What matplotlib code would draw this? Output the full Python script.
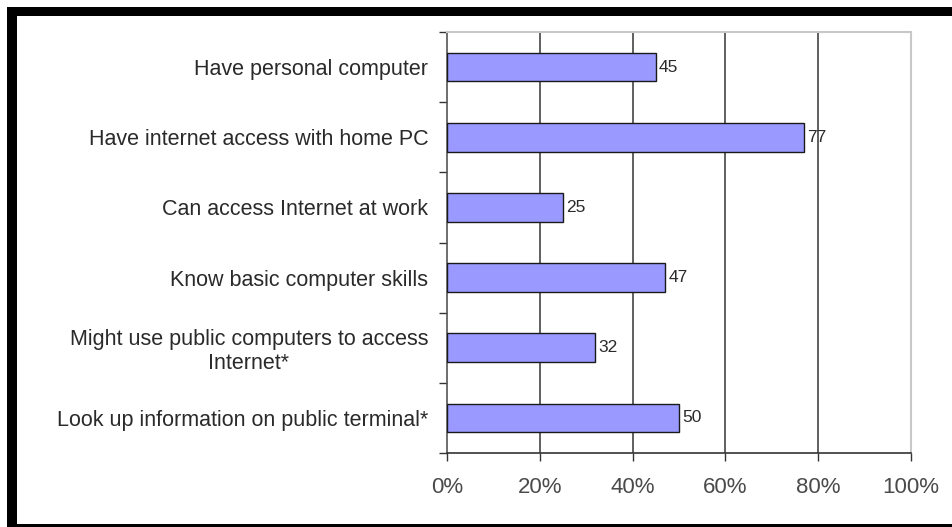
import matplotlib.pyplot as plt
from matplotlib.patches import Rectangle
from matplotlib.ticker import FixedLocator, PercentFormatter

plt.rcParams['font.family'] = ['Liberation Sans', 'DejaVu Sans']

# Survey items, top to bottom
categories = [
    "Have personal computer",
    "Have internet access with home PC",
    "Can access Internet at work",
    "Know basic computer skills",
    "Might use public computers to access\nInternet*",
    "Look up information on public terminal*",
]
values = [45, 77, 25, 47, 32, 50]
x_ticks = [0, 20, 40, 60, 80, 100]

W, H = 952, 527
fig = plt.figure(figsize=(W / 100, H / 100), dpi=100)
fig.patch.set_facecolor('white')


def px(x0, y0, x1, y1):
    # pixel box (top-left origin) -> figure fraction rect
    return [x0 / W, 1 - y1 / H, (x1 - x0) / W, (y1 - y0) / H]


ax = fig.add_axes(px(447, 32, 911, 453))

n = len(categories)
ypos = list(range(n))
ax.barh(ypos, values, height=0.41, color='#9999ff', edgecolor='#1a1a1a',
        linewidth=1.0, zorder=3)

for y, v in zip(ypos, values):
    ax.text(v + 0.7, y, f"{v}", va='center', ha='left', fontsize=12.5,
            color='#2a2a2a', zorder=4)

ax.set_xlim(0, 100)
ax.set_ylim(n - 0.5, -0.5)

# gridlines at 20..80
for xv in x_ticks[1:-1]:
    ax.axvline(xv, color='#444444', linewidth=1.2, zorder=1)

ax.xaxis.set_major_locator(FixedLocator(x_ticks))
ax.xaxis.set_major_formatter(PercentFormatter(decimals=0))
ax.tick_params(axis='x', direction='out', length=6, width=1.0,
               color='#333333', labelsize=16, labelcolor='#4a4a4a', pad=11)

ax.set_yticks(ypos)
ax.set_yticklabels(categories, fontsize=15.5, color='#2a2a2a',
                   multialignment='center', linespacing=1.2)
ax.tick_params(axis='y', which='major', length=0, pad=13.5)
ax.yaxis.set_minor_locator(FixedLocator([i - 0.5 for i in range(n + 1)]))
ax.tick_params(axis='y', which='minor', direction='out', length=6,
               width=1.0, color='#333333')

ax.spines['left'].set_color('#555555')
ax.spines['left'].set_linewidth(1.2)
ax.spines['bottom'].set_color('#333333')
ax.spines['bottom'].set_linewidth(1.2)
ax.spines['top'].set_color('#c8c8c8')
ax.spines['top'].set_linewidth(1.5)
ax.spines['right'].set_color('#c8c8c8')
ax.spines['right'].set_linewidth(1.5)

# black outer frame (top, left, bottom)
for box in [(7, 7, W, 16), (7, 7, 17, H), (7, 524, W, H)]:
    fig.add_artist(Rectangle(px(*box)[:2], px(*box)[2], px(*box)[3],
                             transform=fig.transFigure, facecolor='black',
                             edgecolor='none'))

fig.savefig('out.png', dpi=100)
